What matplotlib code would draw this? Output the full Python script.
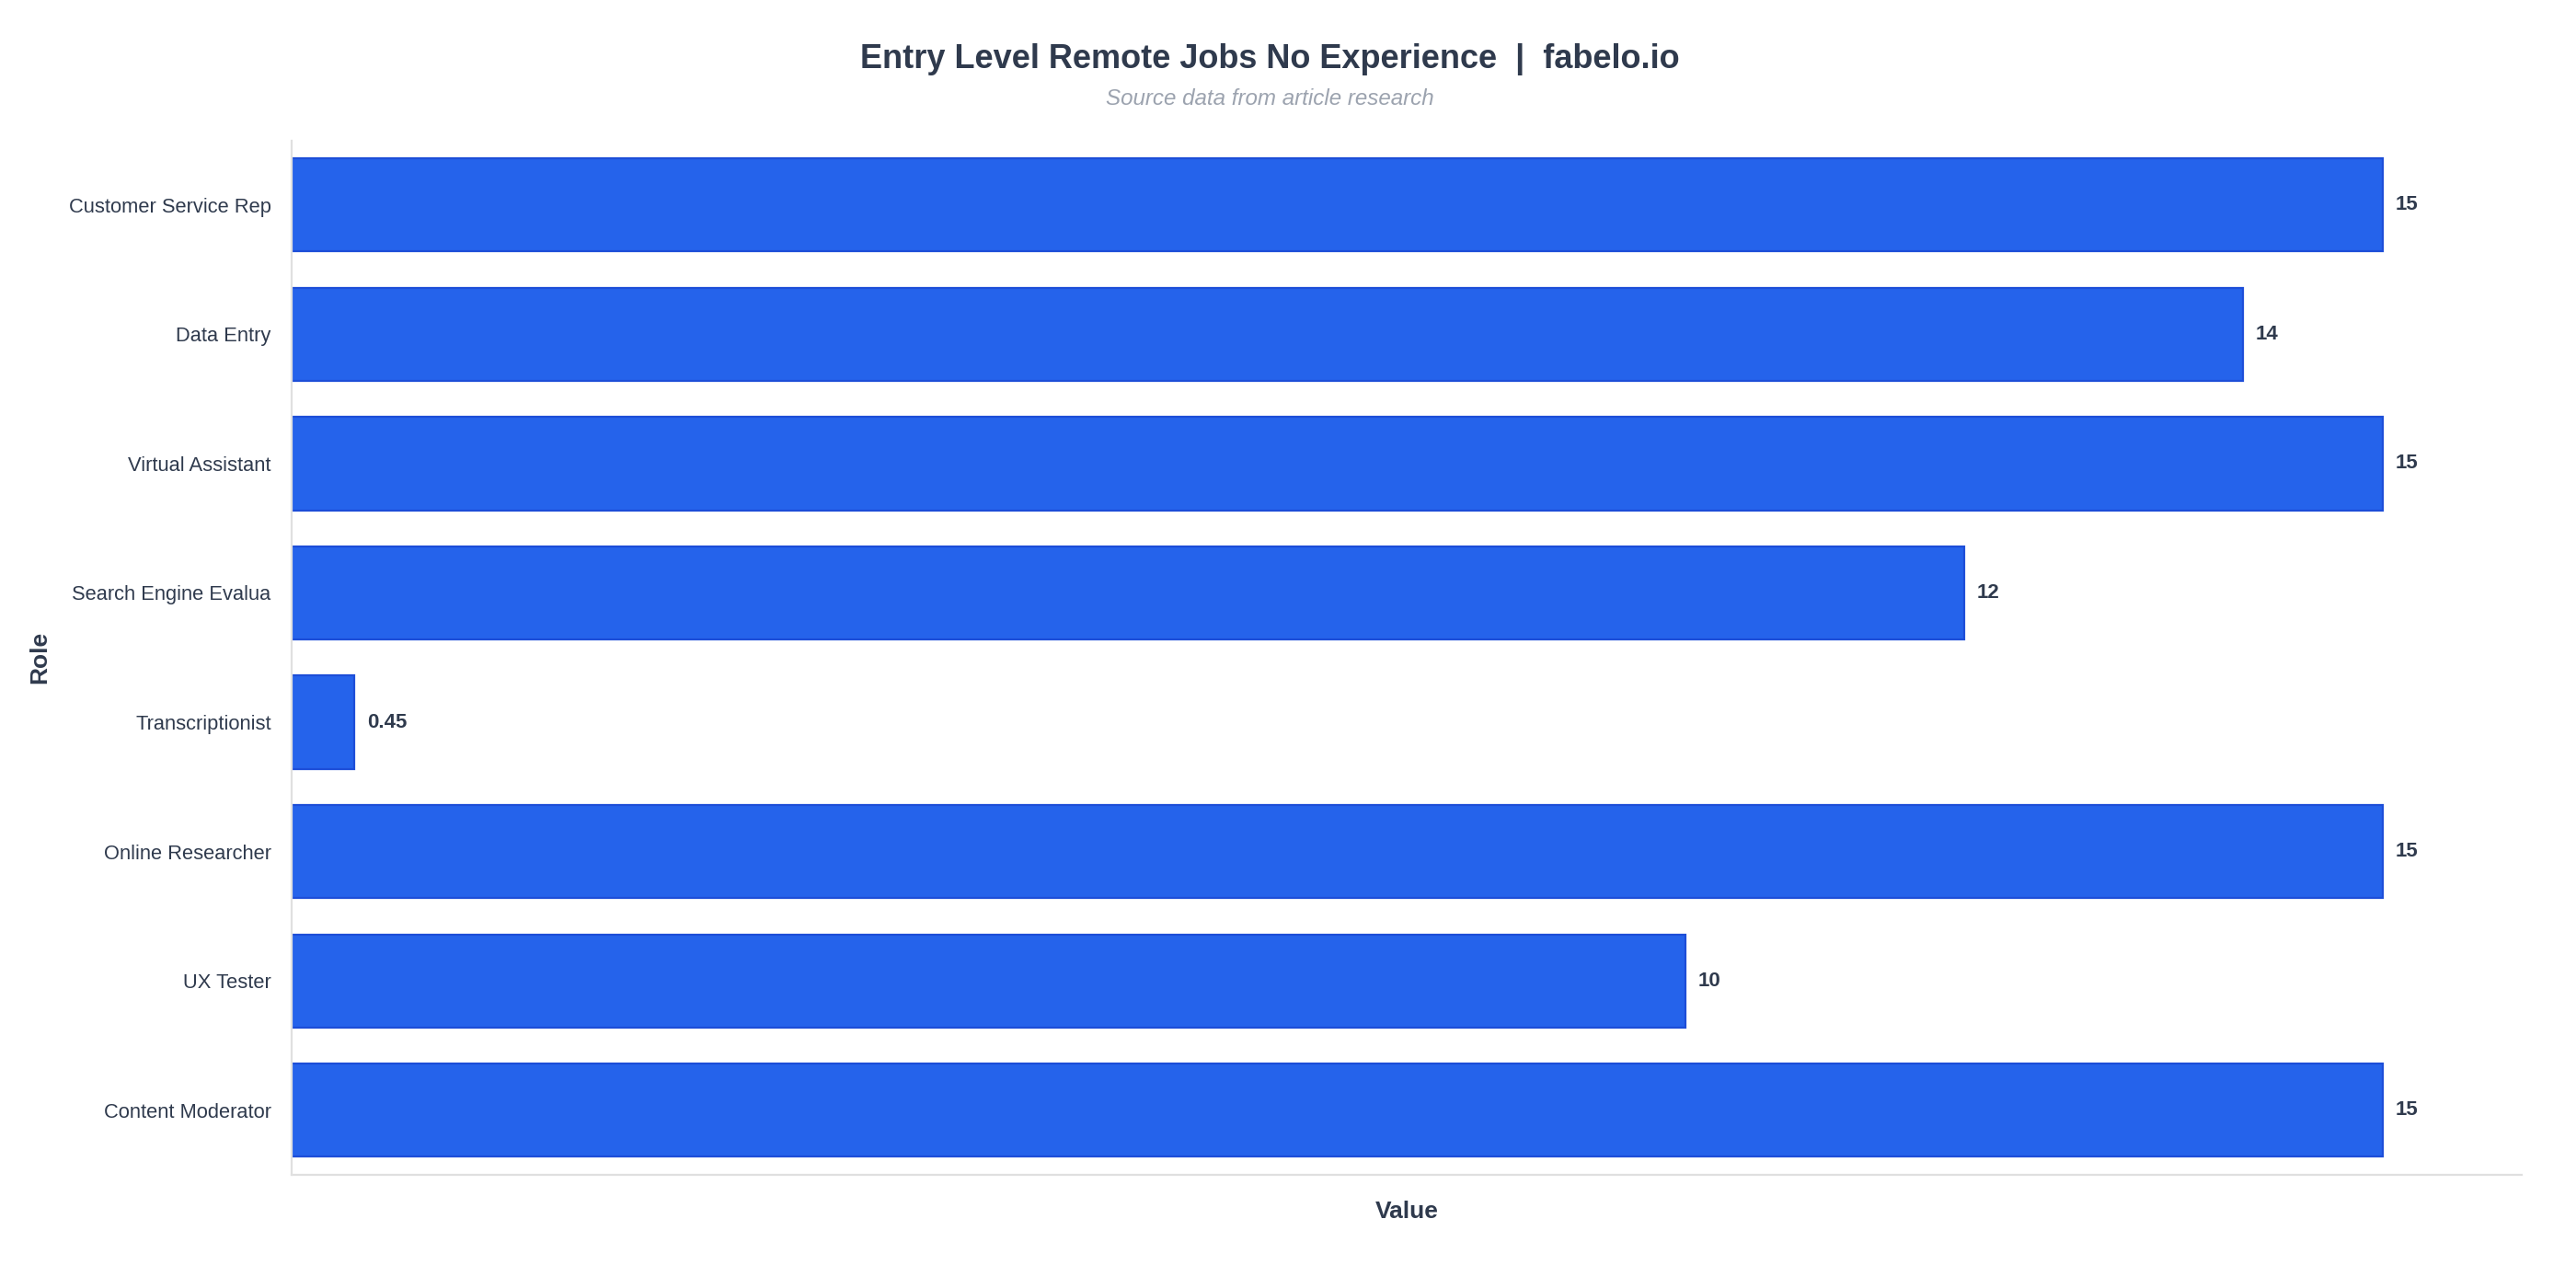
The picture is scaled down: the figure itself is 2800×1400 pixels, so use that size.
import matplotlib
matplotlib.use("Agg")
import matplotlib.pyplot as plt

roles = ["Customer Service Rep", "Data Entry", "Virtual Assistant", "Search Engine Evalua",
         "Transcriptionist", "Online Researcher", "UX Tester", "Content Moderator"]
values = [15, 14, 15, 12, 0.45, 15, 10, 15]
value_labels = ["15", "14", "15", "12", "0.45", "15", "10", "15"]

plt.rcParams['font.family'] = ['Liberation Sans', 'DejaVu Sans']
TEXT = "#2f3a4d"

fig = plt.figure(figsize=(14, 7), dpi=200)
ax = fig.add_axes([0.1132, 0.0879, 0.979 - 0.1132, 0.891 - 0.0879])

ypos = list(range(len(roles)))
ax.barh(ypos, values, height=0.72, color="#2563eb", edgecolor="#1d4ed8", linewidth=0.8)
for y, v, lab in zip(ypos, values, value_labels):
    ax.annotate(lab, xy=(v, y), xytext=(5, 0), textcoords="offset points",
                va="center", ha="left", fontsize=8, fontweight="bold", color=TEXT)

ax.set_xlim(0, 16)
ax.set_ylim(len(roles) - 0.5, -0.5)
ax.set_yticks(ypos)
ax.set_yticklabels(roles, fontsize=7.9, color=TEXT)
ax.set_xticks([])
ax.tick_params(axis="y", length=0, pad=8)
for s in ["top", "right"]:
    ax.spines[s].set_visible(False)
for s in ["left", "bottom"]:
    ax.spines[s].set_color("#e0e0e0")
    ax.spines[s].set_linewidth(0.8)

fig.text(0.493, 0.954, "Entry Level Remote Jobs No Experience  |  fabelo.io",
         ha="center", va="center", fontsize=13, fontweight="bold", color=TEXT)
fig.text(0.493, 0.923, "Source data from article research",
         ha="center", va="center", fontsize=8.7, style="italic", color="#9ca3af")
fig.text(0.0153, 0.49, "Role", rotation=90, ha="center", va="center",
         fontsize=9.5, fontweight="bold", color=TEXT)
fig.text(0.546, 0.059, "Value", ha="center", va="center",
         fontsize=9.5, fontweight="bold", color=TEXT)

fig.savefig("out.png", dpi=200, facecolor="white")
